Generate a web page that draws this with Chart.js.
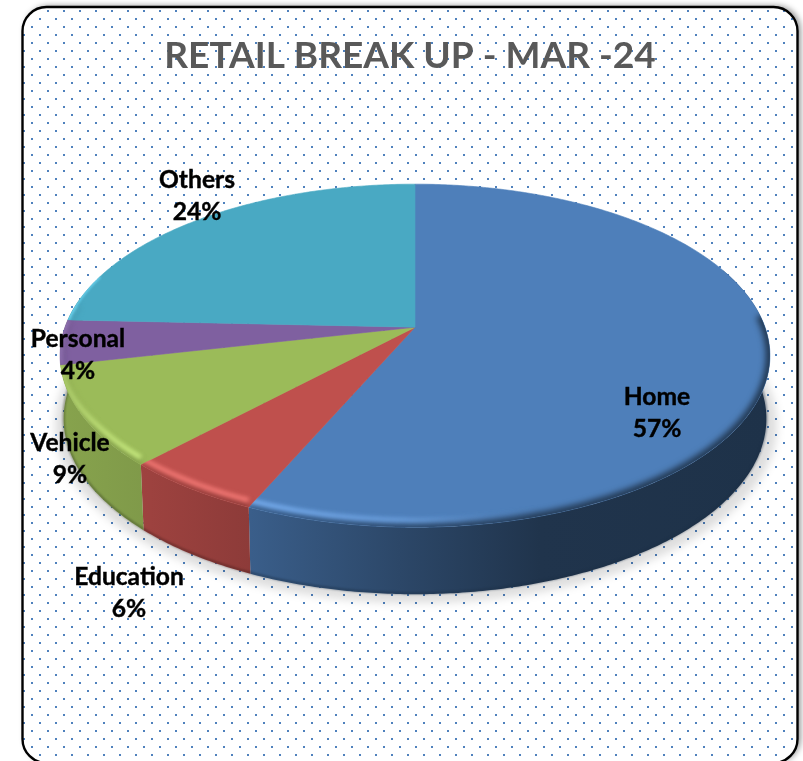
<!DOCTYPE html>
<html>
<head>
<meta charset="utf-8">
<style>
html,body{margin:0;padding:0;background:#fff;overflow:hidden}
#wrap{position:relative;width:803px;height:761px}
canvas{display:block}
</style>
<script src="https://cdn.jsdelivr.net/npm/chart.js@4"></script>
</head>
<body>
<div id="wrap"><canvas id="c" width="803" height="761"></canvas></div>
<script>
const titleText = 'RETAIL BREAK UP - MAR -24';
const categories = ['Home', 'Education', 'Vehicle', 'Personal', 'Others'];
const shares = [56.6, 5.5, 9.4, 4.2, 24.3];
const sliceColors = ['#4e7fba', '#bf504d', '#9bbb59', '#7f60a0', '#49a9c3'];

// Text anchor of each data label, in page pixels.
const labelCentres = {
  Home: [657, 413], Education: [129, 593], Vehicle: [70, 459],
  Personal: [78, 355], Others: [197, 196]
};

// Perspective of the tilted disc.
const TOP = {dx: 5, rx: 350, ry: 166.8, k: -0.166, cy: 355, hy: 171};
const LOW = {sx: 0.99, cy: 418, hy: 175};

function rgb(hex){ return [1,3,5].map(i => parseInt(hex.substr(i,2),16)); }
function shade(hex, f, a){
  const c = rgb(hex).map(v => Math.min(255, Math.round(v*f)));
  return `rgba(${c[0]},${c[1]},${c[2]},${a===undefined?1:a})`;
}
function lighten(hex, add, a){
  const c = rgb(hex).map(v => Math.min(255, Math.round(v*1.12+add)));
  return `rgba(${c[0]},${c[1]},${c[2]},${a})`;
}
function centreX(el){ return el.x + TOP.dx; }
function topPoint(el, t){
  const u = Math.sin(t), v = -Math.cos(t), w = 1 + TOP.k*v;
  return [centreX(el) + TOP.rx*u/w, el.y + TOP.ry*v/w];
}
function lowPoint(el, t){
  const p = topPoint(el, t), cx = centreX(el);
  return [cx + LOW.sx*(p[0]-cx), LOW.cy + (p[1]-TOP.cy)*LOW.hy/TOP.hy];
}
function anglesOf(el){ return [el.startAngle + Math.PI/2, el.endAngle + Math.PI/2]; }
function samples(a, b){
  const out = [], n = Math.max(2, Math.ceil((b-a)/0.01));
  for(let i=0;i<=n;i++) out.push(a + (b-a)*i/n);
  return out;
}
function wedge(ctx, el){
  const [a,b] = anglesOf(el);
  ctx.beginPath();
  ctx.moveTo(centreX(el), el.y);
  samples(a,b).forEach(t => { const p = topPoint(el,t); ctx.lineTo(p[0],p[1]); });
  ctx.closePath();
}
function clampRange(el, lo0, hi0){
  const [a,b] = anglesOf(el);
  const lo = Math.max(a, lo0), hi = Math.min(b, hi0);
  return hi > lo ? [lo,hi] : null;
}
// The wall is seen only up to the disc's left extreme: the last slice before it
// carries the wall round the corner, later slices show none.
function wallRange(el){
  const [a,b] = anglesOf(el);
  if(a > 4.4) return null;
  const lo = Math.max(a, 1.2);
  const hi = b > 4.4 ? 4.9 : b;
  return hi > lo ? [lo,hi] : null;
}
function sideGradient(ctx, hex){
  const g = ctx.createLinearGradient(60,0,770,0);
  [[60,.87],[150,.82],[250,.74],[400,.56],[540,.41],[770,.39]].forEach(s =>
    g.addColorStop((s[0]-60)/710, shade(hex, s[1])));
  return g;
}
function rimStroke(ctx, el, range, lift){
  ctx.beginPath();
  samples(range[0],range[1]).forEach((t,i) => {
    const p = topPoint(el,t);
    const vv = Math.max(0,(p[1]-TOP.cy)/TOP.hy);
    const y = p[1] - lift*Math.min(1,vv*2.2);
    if(i) ctx.lineTo(p[0],y); else ctx.moveTo(p[0],y);
  });
  ctx.stroke();
}

const backdrop = {
  id:'backdrop',
  beforeDraw(chart){
    const ctx = chart.ctx;
    const tile = document.createElement('canvas');
    tile.width = tile.height = 16;
    const t = tile.getContext('2d');
    t.fillStyle = '#4f81bd';
    t.fillRect(15,10,1,2); t.fillRect(0,10,1,2);
    t.fillRect(7,2,2,2);
    ctx.save();
    ctx.beginPath(); ctx.roundRect(22.5,7,775,756,24);
    ctx.shadowColor='rgba(0,0,0,.45)'; ctx.shadowBlur=6; ctx.shadowOffsetX=3; ctx.shadowOffsetY=-1;
    ctx.fillStyle='#fff'; ctx.fill();
    ctx.shadowColor='transparent'; ctx.shadowBlur=0; ctx.shadowOffsetX=0; ctx.shadowOffsetY=0;
    ctx.fillStyle = ctx.createPattern(tile,'repeat'); ctx.fill();
    ctx.lineWidth=2.4; ctx.strokeStyle='#000'; ctx.stroke();
    ctx.restore();
  }
};

const disc3d = {
  id:'disc3d',
  beforeDatasetDraw(chart){
    const ctx = chart.ctx;
    const arcs = chart.getDatasetMeta(0).data;
    const colors = chart.data.datasets[0].backgroundColor;
    const cx = centreX(arcs[0]);
    ctx.save();
    // soft ground shadow
    ctx.save();
    ctx.filter='blur(4px)';
    ctx.fillStyle='rgba(0,0,0,.13)';
    ctx.beginPath();
    ctx.ellipse(cx+1, LOW.cy+7, 361, LOW.hy+3, 0, 0, Math.PI*2);
    ctx.fill();
    ctx.restore();
    // side walls
    arcs.forEach((el,i) => {
      const r = wallRange(el);
      if(!r) return;
      const ts = samples(r[0],r[1]);
      ctx.beginPath();
      ts.forEach((t,j) => { const p = topPoint(el,t); if(j) ctx.lineTo(p[0],p[1]); else ctx.moveTo(p[0],p[1]); });
      ts.slice().reverse().forEach(t => { const p = lowPoint(el,t); ctx.lineTo(p[0],p[1]); });
      ctx.closePath();
      ctx.fillStyle = sideGradient(ctx, colors[i]);
      ctx.fill();
    });
    // darker lower lip of the wall
    ctx.save();
    ctx.filter='blur(1px)';
    arcs.forEach((el,i) => {
      const r = wallRange(el);
      if(!r) return;
      ctx.beginPath();
      samples(r[0],r[1]).forEach((t,j) => { const p = lowPoint(el,t); if(j) ctx.lineTo(p[0],p[1]-1); else ctx.moveTo(p[0],p[1]-1); });
      ctx.strokeStyle = shade(colors[i], .36, .55);
      ctx.lineWidth = 2;
      ctx.stroke();
    });
    ctx.restore();
    // top faces
    arcs.forEach((el,i) => {
      wedge(ctx, el);
      ctx.fillStyle = colors[i];
      ctx.fill();
      ctx.strokeStyle = colors[i];
      ctx.lineWidth = .6;
      ctx.stroke();
    });
    // bevel
    arcs.forEach((el,i) => {
      const r = clampRange(el, 1.5, 4.85);
      if(!r) return;
      ctx.save();
      wedge(ctx, el); ctx.clip();
      ctx.filter='blur(3px)';
      ctx.strokeStyle = sideGradient(ctx, colors[i]);
      ctx.lineWidth = 8;
      rimStroke(ctx, el, r, 0);
      const g = ctx.createLinearGradient(60,0,770,0);
      [[60,.55],[140,.95],[260,1],[400,.7],[490,.15],[540,0],[770,0]].forEach(s =>
        g.addColorStop((s[0]-60)/710, lighten(colors[i], 34, s[1])));
      ctx.filter='blur(2px)';
      ctx.strokeStyle = g;
      ctx.lineWidth = 4.5;
      rimStroke(ctx, el, r, 7);
      ctx.restore();
    });
    // thin light edge on the upper-left rim
    ctx.save();
    wedge(ctx, arcs[4]); ctx.clip();
    ctx.filter='blur(1px)';
    ctx.strokeStyle = lighten(colors[4], 25, .8);
    ctx.lineWidth = 3;
    const ang = anglesOf(arcs[4]);
    ctx.beginPath();
    samples(ang[0], ang[0]+0.28).forEach((t,j) => { const p = topPoint(arcs[4],t); if(j) ctx.lineTo(p[0],p[1]); else ctx.moveTo(p[0],p[1]); });
    ctx.stroke();
    ctx.restore();
    ctx.restore();
    return false;
  },
  afterDatasetsDraw(chart){
    const ctx = chart.ctx;
    const data = chart.data.datasets[0].data;
    ctx.save();
    ctx.font = 'bold 24.6px Lato';
    ctx.fillStyle = '#000';
    ctx.strokeStyle = '#000';
    ctx.lineWidth = .4;
    ctx.textAlign = 'center';
    ctx.textBaseline = 'middle';
    chart.data.labels.forEach((name,i) => {
      const c = labelCentres[name];
      const pct = Math.round(data[i]) + '%';
      ctx.fillText(name, c[0], c[1]-16); ctx.strokeText(name, c[0], c[1]-16);
      ctx.fillText(pct, c[0], c[1]+16); ctx.strokeText(pct, c[0], c[1]+16);
    });
    ctx.restore();
  }
};

new Chart(document.getElementById('c'), {
  type:'pie',
  data:{labels:categories, datasets:[{data:shares, backgroundColor:sliceColors, borderWidth:0}]},
  options:{
    responsive:false, animation:false, devicePixelRatio:1,
    events:[],
    layout:{padding:{left:17,right:0,top:0,bottom:196}},
    plugins:{
      legend:{display:false},
      tooltip:{enabled:false},
      title:{display:true, text:titleText, color:'#595959',
        font:{family:'Lato', weight:'bold', size:37},
        padding:{top:34,bottom:11}}
    }
  },
  plugins:[backdrop, disc3d]
});
</script>
</body>
</html>
